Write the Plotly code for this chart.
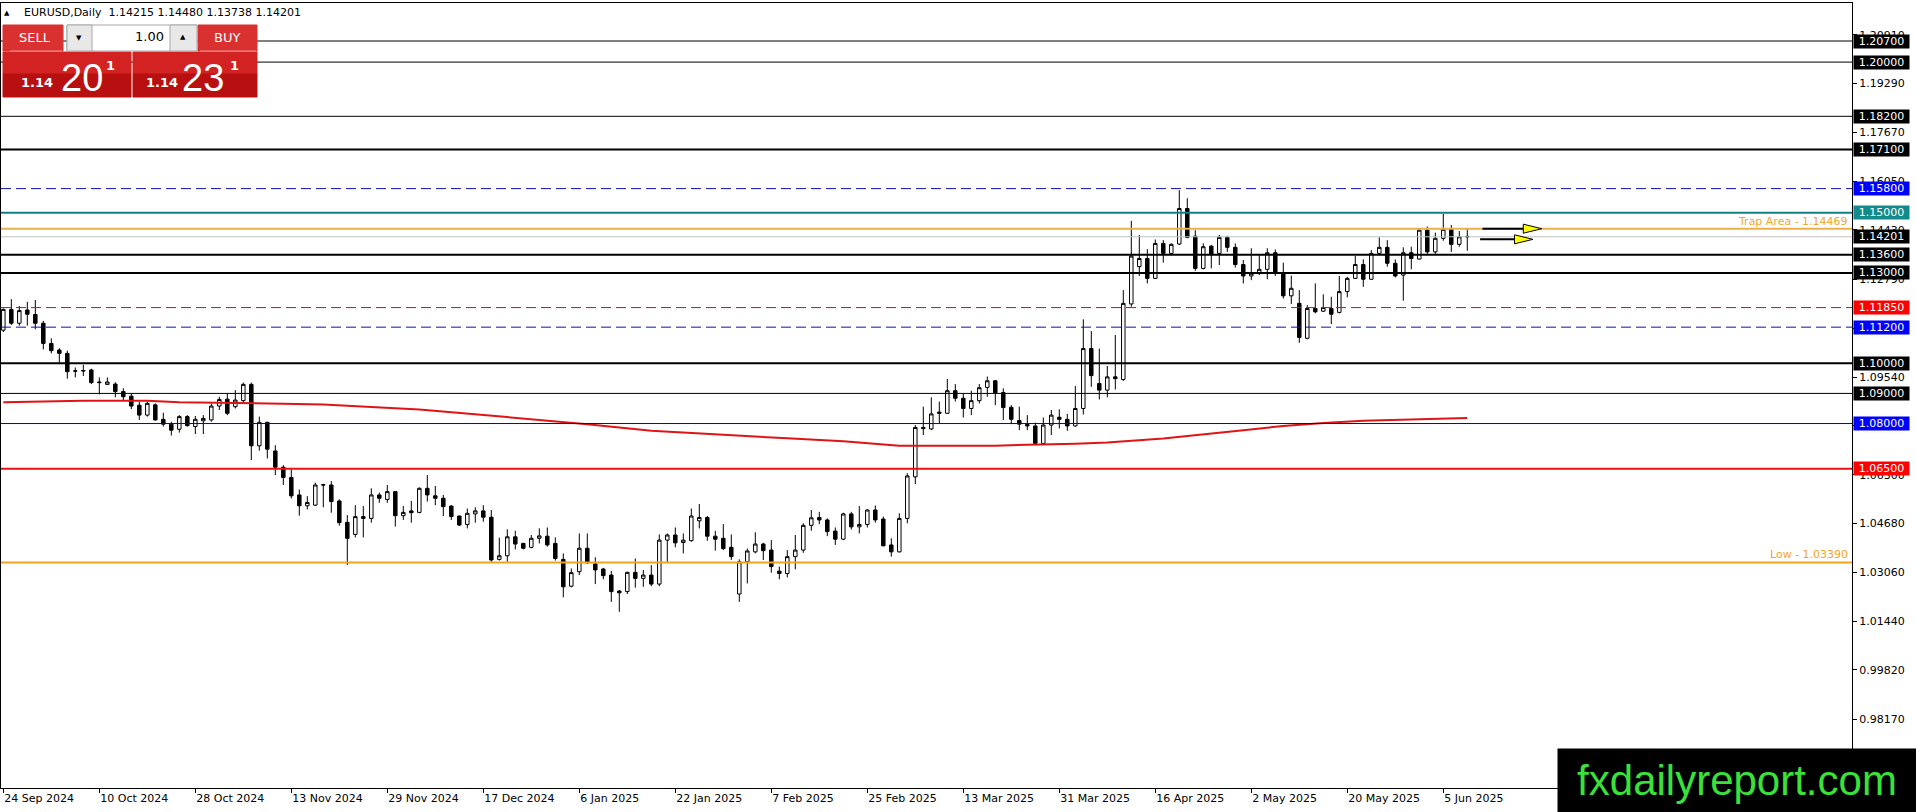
import plotly.graph_objects as go

# EURUSD daily bars (24 Sep 2024 .. 10 Jun 2025)
opens = [1.1110, 1.1179, 1.1133, 1.1177, 1.1162, 1.1133, 1.1066, 1.1044, 1.1033, 1.0975,
         1.0974, 1.0978, 1.0938, 1.0930, 1.0931, 1.0906, 1.0891, 1.0861, 1.0828, 1.0862,
         1.0814, 1.0798, 1.0781, 1.0823, 1.0790, 1.0809, 1.0812, 1.0858, 1.0881, 1.0856,
         1.0876, 1.0930, 1.0726, 1.0804, 1.0709, 1.0655, 1.0621, 1.0563, 1.0527, 1.0529,
         1.0597, 1.0596, 1.0543, 1.0472, 1.0432, 1.0491, 1.0485, 1.0563, 1.0548, 1.0574,
         1.0494, 1.0510, 1.0505, 1.0585, 1.0560, 1.0552, 1.0526, 1.0493, 1.0465, 1.0500,
         1.0510, 1.0489, 1.0349, 1.0361, 1.0424, 1.0402, 1.0389, 1.0419, 1.0426, 1.0402,
         1.0349, 1.0260, 1.0308, 1.0386, 1.0334, 1.0317, 1.0297, 1.0244, 1.0242, 1.0306,
         1.0286, 1.0297, 1.0267, 1.0413, 1.0430, 1.0405, 1.0411, 1.0477, 1.0488, 1.0426,
         1.0419, 1.0389, 1.0234, 1.0341, 1.0374, 1.0400, 1.0380, 1.0310, 1.0302, 1.0358,
         1.0380, 1.0462, 1.0488, 1.0480, 1.0443, 1.0416, 1.0500, 1.0457, 1.0465, 1.0513,
         1.0483, 1.0397, 1.0374, 1.0485, 1.0623, 1.0783, 1.0782, 1.0838, 1.0834, 1.0909,
         1.0884, 1.0850, 1.0876, 1.0920, 1.0942, 1.0903, 1.0854, 1.0810, 1.0797, 1.0792,
         1.0734, 1.0795, 1.0821, 1.0814, 1.0792, 1.0850, 1.1049, 1.0933, 1.0911, 1.0955,
         1.0946, 1.1197, 1.1321, 1.1348, 1.1282, 1.1398, 1.1365, 1.1396, 1.1514, 1.1422,
         1.1315, 1.1389, 1.1365, 1.1418, 1.1385, 1.1328, 1.1290, 1.1301, 1.1312, 1.1367,
         1.1298, 1.1224, 1.1199, 1.1083, 1.1182, 1.1173, 1.1182, 1.1169, 1.1238, 1.1282,
         1.1328, 1.1279, 1.1365, 1.1385, 1.1332, 1.1293, 1.1367, 1.1346, 1.1442, 1.1370,
         1.1415, 1.1445, 1.1395, 1.14215]
highs = [1.1182, 1.1213, 1.1190, 1.1204, 1.1210, 1.1141, 1.1083, 1.1050, 1.1042, 1.0986,
         1.0995, 1.0982, 1.0953, 1.0953, 1.0937, 1.0917, 1.0900, 1.0873, 1.0873, 1.0867,
         1.0836, 1.0806, 1.0828, 1.0828, 1.0825, 1.0828, 1.0867, 1.0889, 1.0900, 1.0911,
         1.0936, 1.0936, 1.0823, 1.0806, 1.0728, 1.0662, 1.0648, 1.0581, 1.0559, 1.0604,
         1.0600, 1.0609, 1.0548, 1.0496, 1.0529, 1.0526, 1.0585, 1.0571, 1.0596, 1.0576,
         1.0526, 1.0543, 1.0588, 1.0629, 1.0593, 1.0563, 1.0529, 1.0494, 1.0518, 1.0522,
         1.0529, 1.0513, 1.0421, 1.0449, 1.0444, 1.0404, 1.0430, 1.0452, 1.0455, 1.0422,
         1.0369, 1.0319, 1.0435, 1.0435, 1.0356, 1.0321, 1.0311, 1.0247, 1.0308, 1.0352,
         1.0314, 1.0330, 1.0432, 1.0435, 1.0455, 1.0435, 1.0518, 1.0533, 1.0493, 1.0444,
         1.0466, 1.0432, 1.0349, 1.0385, 1.0439, 1.0404, 1.0413, 1.0325, 1.0380, 1.0430,
         1.0469, 1.0513, 1.0507, 1.0485, 1.0455, 1.0504, 1.0507, 1.0526, 1.0515, 1.0528,
         1.0491, 1.0419, 1.0502, 1.0635, 1.0795, 1.0856, 1.0887, 1.0873, 1.0948, 1.0931,
         1.0900, 1.0909, 1.0931, 1.0956, 1.0944, 1.0917, 1.0861, 1.0856, 1.0828, 1.0803,
         1.0820, 1.0845, 1.0847, 1.0832, 1.0925, 1.1146, 1.1107, 1.1049, 1.0991, 1.1094,
         1.1243, 1.1473, 1.1426, 1.1379, 1.1411, 1.1409, 1.1398, 1.1575, 1.1548, 1.1442,
         1.1398, 1.1393, 1.1426, 1.1423, 1.1398, 1.1343, 1.1382, 1.1363, 1.1382, 1.1378,
         1.1334, 1.1291, 1.1243, 1.1193, 1.1265, 1.1229, 1.1221, 1.1290, 1.1287, 1.1356,
         1.1345, 1.1376, 1.1418, 1.1409, 1.1345, 1.1385, 1.1387, 1.1445, 1.1454, 1.1434,
         1.1496, 1.1459, 1.1439, 1.14480]
lows = [1.1104, 1.1127, 1.1125, 1.1125, 1.1113, 1.1046, 1.1033, 1.1002, 1.0949, 1.0953,
        1.0958, 1.0931, 1.0897, 1.0928, 1.0887, 1.0878, 1.0848, 1.0812, 1.0823, 1.0810,
        1.0790, 1.0760, 1.0770, 1.0790, 1.0765, 1.0765, 1.0806, 1.0845, 1.0828, 1.0850,
        1.0869, 1.0679, 1.0710, 1.0684, 1.0629, 1.0596, 1.0551, 1.0494, 1.0515, 1.0526,
        1.0522, 1.0504, 1.0461, 1.0330, 1.0422, 1.0422, 1.0471, 1.0537, 1.0537, 1.0458,
        1.0480, 1.0471, 1.0502, 1.0541, 1.0529, 1.0493, 1.0480, 1.0460, 1.0452, 1.0471,
        1.0474, 1.0341, 1.0345, 1.0341, 1.0382, 1.0382, 1.0386, 1.0402, 1.0391, 1.0345,
        1.0223, 1.0256, 1.0297, 1.0334, 1.0267, 1.0283, 1.0208, 1.0175, 1.0234, 1.0255,
        1.0258, 1.0260, 1.0260, 1.0338, 1.0389, 1.0369, 1.0408, 1.0452, 1.0411, 1.0378,
        1.0380, 1.0347, 1.0208, 1.0269, 1.0369, 1.0347, 1.0305, 1.0283, 1.0289, 1.0316,
        1.0371, 1.0444, 1.0466, 1.0426, 1.0397, 1.0413, 1.0448, 1.0435, 1.0455, 1.0471,
        1.0393, 1.0358, 1.0372, 1.0469, 1.0599, 1.0762, 1.0778, 1.0801, 1.0832, 1.0873,
        1.0820, 1.0828, 1.0867, 1.0889, 1.0861, 1.0812, 1.0798, 1.0778, 1.0778, 1.0732,
        1.0732, 1.0762, 1.0784, 1.0776, 1.0790, 1.0830, 1.0922, 1.0880, 1.0887, 1.0913,
        1.0942, 1.1188, 1.1290, 1.1265, 1.1280, 1.1334, 1.1363, 1.1393, 1.1415, 1.1307,
        1.1312, 1.1315, 1.1326, 1.1370, 1.1318, 1.1265, 1.1276, 1.1293, 1.1279, 1.1290,
        1.1215, 1.1197, 1.1068, 1.1080, 1.1166, 1.1171, 1.1130, 1.1166, 1.1219, 1.1280,
        1.1254, 1.1278, 1.1359, 1.1321, 1.1285, 1.1208, 1.1312, 1.1345, 1.1363, 1.1363,
        1.1407, 1.1370, 1.1387, 1.13738]
closes = [1.1179, 1.1133, 1.1175, 1.1163, 1.1133, 1.1066, 1.1042, 1.1033, 1.0972, 1.0974,
          1.0976, 1.0936, 1.0936, 1.0938, 1.0906, 1.0889, 1.0858, 1.0828, 1.0867, 1.0812,
          1.0798, 1.0778, 1.0823, 1.0793, 1.0814, 1.0817, 1.0858, 1.0880, 1.0834, 1.0878,
          1.0930, 1.0726, 1.0804, 1.0715, 1.0655, 1.0621, 1.0560, 1.0527, 1.0538, 1.0596,
          1.0596, 1.0541, 1.0471, 1.0419, 1.0491, 1.0485, 1.0563, 1.0552, 1.0574, 1.0494,
          1.0505, 1.0504, 1.0585, 1.0563, 1.0552, 1.0524, 1.0491, 1.0463, 1.0502, 1.0510,
          1.0489, 1.0347, 1.0361, 1.0424, 1.0400, 1.0386, 1.0419, 1.0427, 1.0397, 1.0352,
          1.0258, 1.0305, 1.0386, 1.0338, 1.0314, 1.0295, 1.0242, 1.0238, 1.0306, 1.0286,
          1.0297, 1.0267, 1.0413, 1.0430, 1.0404, 1.0413, 1.0493, 1.0488, 1.0426, 1.0416,
          1.0385, 1.0358, 1.0341, 1.0377, 1.0400, 1.0378, 1.0325, 1.0302, 1.0358, 1.0380,
          1.0462, 1.0487, 1.0480, 1.0441, 1.0416, 1.0500, 1.0457, 1.0465, 1.0513, 1.0480,
          1.0394, 1.0374, 1.0485, 1.0626, 1.0787, 1.0787, 1.0832, 1.0834, 1.0909, 1.0884,
          1.0850, 1.0876, 1.0919, 1.0942, 1.0902, 1.0853, 1.0814, 1.0798, 1.0792, 1.0734,
          1.0795, 1.0828, 1.0814, 1.0792, 1.0850, 1.1049, 1.0959, 1.0911, 1.0955, 1.0949,
          1.1199, 1.1356, 1.1348, 1.1282, 1.1398, 1.1365, 1.1395, 1.1514, 1.1418, 1.1315,
          1.1387, 1.1363, 1.1418, 1.1385, 1.1328, 1.1290, 1.1299, 1.1312, 1.1367, 1.1301,
          1.1224, 1.1249, 1.1086, 1.1182, 1.1171, 1.1185, 1.1163, 1.1238, 1.1282, 1.1328,
          1.1279, 1.1365, 1.1385, 1.1332, 1.1290, 1.1367, 1.1348, 1.1442, 1.1370, 1.1415,
          1.1445, 1.1395, 1.1420, 1.14201]

# bar index labels on the time axis (one every 12 bars)
date_labels = ["24 Sep 2024", "10 Oct 2024", "28 Oct 2024", "13 Nov 2024", "29 Nov 2024",
               "17 Dec 2024", "6 Jan 2025", "22 Jan 2025", "7 Feb 2025", "25 Feb 2025",
               "13 Mar 2025", "31 Mar 2025", "16 Apr 2025", "2 May 2025", "20 May 2025",
               "5 Jun 2025"]

# moving average (red curve), sampled along the bars
ma_idx = [0, 10, 18, 22, 35, 40, 52, 60, 73, 81, 90, 98, 105, 112, 124, 128, 134, 138,
          145, 150, 155, 160, 165, 170, 175, 180, 183]
ma_val = [1.0871, 1.0876, 1.0876, 1.0871, 1.0866, 1.0863, 1.0847, 1.0829, 1.0798, 1.0776,
          1.0764, 1.0751, 1.0741, 1.0726, 1.0726, 1.0730, 1.0733, 1.0737, 1.0750, 1.0763,
          1.0778, 1.0792, 1.0802, 1.0809, 1.0813, 1.0817, 1.0818]

# horizontal levels drawn on the chart
levels = [1.20700, 1.20000, 1.18200, 1.17100, 1.15800, 1.15000, 1.14469, 1.13600,
          1.13000, 1.11850, 1.11200, 1.10000, 1.09000, 1.08000, 1.06500, 1.03390]
level_kinds = ["thin", "thin", "thin", "bold", "bluedash", "teal", "trap", "bold",
               "bold", "reddash", "bluedash", "bold", "thin", "blue", "red", "low"]

# y axis ticks
y_ticks = [1.20910, 1.19290, 1.17670, 1.16050, 1.14430, 1.12790, 1.11170, 1.09540,
           1.07920, 1.06300, 1.04680, 1.03060, 1.01440, 0.99820, 0.98170, 0.96540]

# arrows drawn after the last bar
arrow_x0 = [184.9, 184.6]
arrow_x1 = [192.3, 191.2]
arrow_y = [1.14469, 1.14116]

FONT = "DejaVu Sans"

# style of each kind of level: line color, width, dash, label box color
kind_style = {
    "thin": ("black", 1, "solid", "black"),
    "bold": ("black", 2, "solid", "black"),
    "bluedash": ("#1010B0", 1, "10px,5px", "#0000FF"),
    "reddash": ("#C81010", 1, "10px,5px", "#FF0000"),
    "teal": ("#108080", 2, "solid", "#138A8A"),
    "blue": ("#0000B8", 1, "solid", "#0000FF"),
    "red": ("#E81010", 2, "solid", "#FF0000"),
    "trap": ("#EAB04C", 2, "solid", None),
    "low": ("#F5A21E", 2, "solid", None),
}

# pixel -> paper helpers for the plot area (x 1..1852, y 3..788)
def px(x):
    return (x - 1) / 1851.0

def py(y):
    return (788 - y) / 785.0

fig = go.Figure()

bars = list(range(len(opens)))

fig.add_trace(go.Scatter(
    x=ma_idx, y=ma_val, mode="lines",
    line=dict(color="#E01414", width=2), hoverinfo="skip"
))

fig.add_trace(go.Candlestick(
    x=bars, open=opens, high=highs, low=lows, close=closes,
    increasing=dict(line=dict(color="black", width=1), fillcolor="white"),
    decreasing=dict(line=dict(color="black", width=1), fillcolor="black"),
    whiskerwidth=0
))

shapes = []
annotations = []

# bid line
bid = closes[-1]
shapes.append(dict(type="line", xref="paper", x0=0, x1=1, yref="y", y0=bid, y1=bid,
                   line=dict(color="#C0C0C0", width=1)))

for price, kind in zip(levels, level_kinds):
    color, width, dash, box = kind_style[kind]
    shapes.append(dict(type="line", xref="paper", x0=0, x1=1, yref="y", y0=price, y1=price,
                       line=dict(color=color, width=width, dash=dash)))
    if box is not None:
        annotations.append(dict(xref="paper", x=1, xanchor="left", xshift=1, yref="y", y=price,
                                yanchor="middle", text="%.5f" % price, showarrow=False,
                                bgcolor=box, width=55, height=13, borderpad=0,
                                font=dict(family=FONT, size=11, color="white")))

# bid label on the axis
annotations.append(dict(xref="paper", x=1, xanchor="left", xshift=1, yref="y", y=bid,
                        yanchor="middle", text="%.5f" % bid, showarrow=False,
                        bgcolor="black", width=55, height=13, borderpad=0,
                        font=dict(family=FONT, size=11, color="white")))

# texts above trap / low lines
annotations.append(dict(xref="paper", x=px(1850), xanchor="right", yref="y", y=levels[6],
                        yanchor="bottom", yshift=-1, text="Trap Area - %.5f" % levels[6],
                        showarrow=False, font=dict(family=FONT, size=11, color="#F0A830")))
annotations.append(dict(xref="paper", x=px(1850), xanchor="right", yref="y", y=levels[-1],
                        yanchor="bottom", yshift=-1, text="Low - %.5f" % levels[-1],
                        showarrow=False, font=dict(family=FONT, size=11, color="#F5A21E")))

# yellow arrows
for x0, x1, y in zip(arrow_x0, arrow_x1, arrow_y):
    xb = x1 - 2.3
    shapes.append(dict(type="line", xref="x", yref="y", x0=x0, x1=xb, y0=y, y1=y,
                       line=dict(color="black", width=2)))
    shapes.append(dict(type="path", xref="x", yref="y",
                       path="M %f %f L %f %f L %f %f Z" % (xb, y + 0.0015, x1, y, xb, y - 0.0015),
                       fillcolor="#FFFF00", line=dict(color="black", width=1)))

# one-click trading panel
def rect(x0, y0, x1, y1, fill, line_color=None):
    shapes.append(dict(type="rect", xref="paper", yref="paper",
                       x0=px(x0), x1=px(x1), y0=py(y1), y1=py(y0), fillcolor=fill,
                       line=dict(color=line_color or fill, width=1)))

def text(x, y, s, size, color="white", anchor="center", bold=False, family=FONT):
    annotations.append(dict(xref="paper", yref="paper", x=px(x), y=py(y), xanchor=anchor,
                            yanchor="middle", text="<b>%s</b>" % s if bold else s,
                            showarrow=False, font=dict(family=family, size=size, color=color)))

rect(3, 25, 63, 51, "#D93030")
rect(198, 25, 257, 51, "#D93030")
rect(3, 52, 131, 74, "#D22222")
rect(3, 74, 131, 97, "#B81010")
rect(133, 52, 257, 74, "#D22222")
rect(133, 74, 257, 97, "#B81010")
rect(67, 25, 197, 51, "white", "#A8A8A8")
rect(67, 25, 92, 51, "#E8E8E8", "#A8A8A8")
rect(170, 25, 197, 51, "#E8E8E8", "#A8A8A8")
shapes.append(dict(type="line", xref="paper", yref="paper", x0=px(10), x1=px(62),
                   y0=py(51), y1=py(51), line=dict(color="#F09090", width=1)))
shapes.append(dict(type="line", xref="paper", yref="paper", x0=px(200), x1=px(256),
                   y0=py(51), y1=py(51), line=dict(color="#F09090", width=1)))

text(35, 38, "SELL", 13)
text(227, 38, "BUY", 13)
text(79, 38, "▼", 7, "black")
text(183, 37, "▲", 7, "black")
text(166, 37, "1.00", 13, "black", anchor="right")
sell_txt = "%.5f" % closes[-1]
buy_txt = "%.5f" % (closes[-1] + 0.00030)
text(37, 83, sell_txt[:4], 13, bold=True)
text(59, 78, sell_txt[4:6], 38, anchor="left", family="Liberation Sans")
text(110, 66, sell_txt[6], 13, bold=True)
text(162, 83, buy_txt[:4], 13, bold=True)
text(180, 78, buy_txt[4:6], 38, anchor="left", family="Liberation Sans")
text(235, 66, buy_txt[6], 13, bold=True)

# chart header
text(7, 13, "▲", 7, "black")
text(22, 13, "EURUSD,Daily\u00a0 %.5f %.5f %.5f %.5f" % (opens[-1], highs[-1], lows[-1], closes[-1]),
     11, "black", anchor="left")

# watermark
annotations.append(dict(xref="paper", yref="paper", x=px(1737), y=py(780.5), xanchor="center",
                        yanchor="middle", text="fxdailyreport.com", showarrow=False,
                        bgcolor="black", width=356, height=61, borderpad=1,
                        font=dict(family="Liberation Sans", size=42, color="#3BE03B")))

fig.update_layout(
    width=1916, height=812,
    margin=dict(l=1, r=64, t=3, b=24),
    plot_bgcolor="white", paper_bgcolor="white",
    showlegend=False,
    boxgap=0.38,
    font=dict(family=FONT, size=11, color="black"),
    shapes=shapes, annotations=annotations,
    xaxis=dict(
        range=[-0.29, 231.09], rangeslider=dict(visible=False),
        tickvals=[12 * k for k in range(len(date_labels))], ticktext=date_labels,
        ticks="outside", ticklen=4, tickcolor="black", ticklabelposition="outside right",
        showgrid=False, zeroline=False, showline=True, linecolor="black", linewidth=1,
        mirror=True, tickfont=dict(family=FONT, size=11, color="black")
    ),
    yaxis=dict(
        side="right", range=[0.95900, 1.21962],
        tickvals=y_ticks, ticktext=["%.5f" % t for t in y_ticks],
        ticks="outside", ticklen=4, tickcolor="black",
        showgrid=False, zeroline=False, showline=True, linecolor="black", linewidth=1,
        mirror=True, tickfont=dict(family=FONT, size=11, color="black")
    ),
)

fig.write_html("out.html", config={"displayModeBar": False},
               post_script="document.body.style.margin='0';document.body.style.overflow='hidden';")
